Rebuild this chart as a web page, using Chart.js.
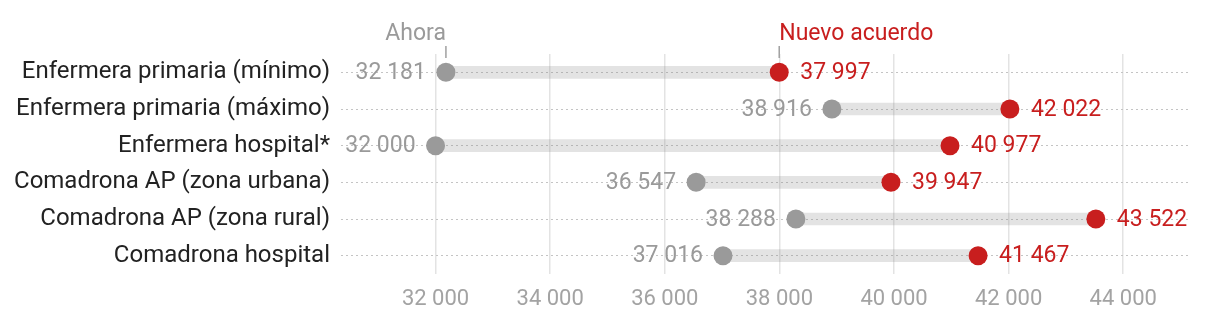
<!DOCTYPE html>
<html>
<head>
<meta charset="utf-8">
<script src="https://cdn.jsdelivr.net/npm/chart.js@4"></script>
<style>
  html, body { margin: 0; padding: 0; background: #fff; }
  #wrap { width: 1220px; height: 318px; }
</style>
</head>
<body>
<div id="wrap"><canvas id="chart" width="1220" height="318"></canvas></div>
<script>
const categories = [
    "Enfermera primaria (mínimo)",
    "Enfermera primaria (máximo)",
    "Enfermera hospital*",
    "Comadrona AP (zona urbana)",
    "Comadrona AP (zona rural)",
    "Comadrona hospital"
];
const ahora = [32181, 38916, 32000, 36547, 38288, 37016];
const nuevo = [37997, 42022, 40977, 39947, 43522, 41467];
const xTicks = [32000, 34000, 36000, 38000, 40000, 42000, 44000];

const GRAY = '#9a9a9a';
const RED = '#c81e1e';
const FONT = 'Roboto';

function fmt(v) {
    return String(v).replace(/\B(?=(\d{3})+(?!\d))/g, ' ');
}

// value labels beside each dot + the two series labels above the first row
const labelPlugin = {
    id: 'dotLabels',
    afterDatasetsDraw(chart) {
        const ctx = chart.ctx;
        const gray = chart.getDatasetMeta(1).data;
        const red = chart.getDatasetMeta(2).data;
        ctx.save();
        ctx.font = '23px ' + FONT;
        ctx.textBaseline = 'middle';
        gray.forEach((p, i) => {
            ctx.fillStyle = GRAY;
            ctx.textAlign = 'right';
            ctx.fillText(fmt(ahora[i]), p.x - 20, p.y + 1);
        });
        red.forEach((p, i) => {
            ctx.fillStyle = RED;
            ctx.textAlign = 'left';
            ctx.fillText(fmt(nuevo[i]), p.x + 21, p.y + 1);
        });

        // series names
        const top = chart.chartArea.top;
        ctx.strokeStyle = '#a0a0a0';
        ctx.lineWidth = 1.5;
        [[gray[0], 'Ahora', GRAY, 'right'], [red[0], 'Nuevo acuerdo', RED, 'left']].forEach(([p, txt, col, align]) => {
            ctx.beginPath();
            ctx.moveTo(p.x, top - 8);
            ctx.lineTo(p.x, top + 4);
            ctx.stroke();
            ctx.fillStyle = col;
            ctx.textAlign = align;
            ctx.fillText(txt, p.x, top - 20);
        });
        ctx.restore();
    }
};

new Chart(document.getElementById('chart'), {
    type: 'bar',
    data: {
        labels: categories,
        datasets: [
            {
                label: 'rango',
                data: categories.map((c, i) => [ahora[i], nuevo[i]]),
                backgroundColor: 'rgba(128,128,128,0.22)',
                borderWidth: 0,
                barThickness: 12,
                order: 3
            },
            {
                type: 'line',
                label: 'Ahora',
                indexAxis: 'y',
                data: categories.map((c, i) => ({ x: ahora[i], y: c })),
                showLine: false,
                pointRadius: 9.5,
                pointHoverRadius: 9.5,
                pointBackgroundColor: GRAY,
                pointBorderWidth: 0,
                order: 1
            },
            {
                type: 'line',
                label: 'Nuevo acuerdo',
                indexAxis: 'y',
                data: categories.map((c, i) => ({ x: nuevo[i], y: c })),
                showLine: false,
                pointRadius: 9.5,
                pointHoverRadius: 9.5,
                pointBackgroundColor: RED,
                pointBorderWidth: 0,
                order: 1
            }
        ]
    },
    options: {
        indexAxis: 'y',
        responsive: false,
        animation: false,
        layout: { padding: { top: 54, right: 32, bottom: 0, left: 0 } },
        plugins: {
            legend: { display: false },
            tooltip: { enabled: false }
        },
        scales: {
            x: {
                type: 'linear',
                min: 30350,
                max: 45130,
                afterBuildTicks: s => { s.ticks = xTicks.map(v => ({ value: v })); },
                afterFit: s => { s.height = 44; },
                grid: { color: '#e3e3e3', lineWidth: 1.5, drawTicks: false },
                border: { display: false },
                ticks: {
                    color: '#a3a3a3',
                    font: { family: FONT, size: 22 },
                    padding: 12,
                    callback: v => fmt(v)
                }
            },
            y: {
                type: 'category',
                offset: true,
                afterFit: s => { s.width = 341; },
                grid: { offset: false, color: '#c4c4c4', lineWidth: 1, drawTicks: false },
                border: { display: false, dash: [2, 3] },
                ticks: {
                    color: '#222222',
                    font: { family: FONT, size: 24 },
                    padding: 11
                }
            }
        }
    },
    plugins: [labelPlugin]
});
</script>
</body>
</html>
